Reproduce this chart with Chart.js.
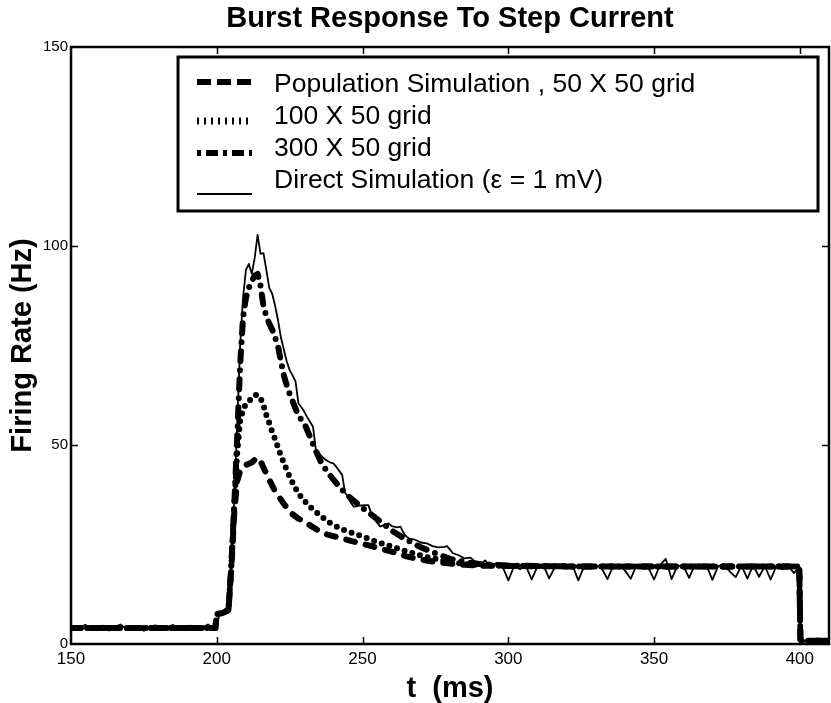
<!DOCTYPE html>
<html>
<head>
<meta charset="utf-8">
<script src="https://cdn.jsdelivr.net/npm/chart.js@4.4.1/dist/chart.umd.min.js"></script>
<style>
  html, body { margin: 0; padding: 0; background: #fff; }
  #wrap { width: 831px; height: 703px; position: relative; }
</style>
</head>
<body>
<div id="wrap"><canvas id="chart"></canvas></div>
<script>
const xTicks = [150, 200, 250, 300, 350, 400];
const yTicks = [0, 50, 100, 150];

const seriesNames = [
  'Population Simulation , 50 X 50 grid',
  '100 X 50 grid',
  '300 X 50 grid',
  'Direct Simulation (\u03b5 = 1 mV)'
];

// time grid shared by the three population runs (ms)
const popTime = [150, 175, 199.5, 200, 202, 204, 205, 206, 207, 208, 209, 210, 211, 212, 213, 214,
  215, 216, 217, 218, 219, 220, 221, 222, 223, 224, 225, 226, 228, 230, 232, 234, 236, 238, 240,
  243, 246, 250, 255, 260, 265, 270, 275, 280, 285, 290, 300, 320, 350, 380, 399.8, 400.2, 410];

const pop50 = [4, 4, 4, 7.5, 7.8, 8.5, 19, 33, 41, 43.5, 44.5, 45, 45.3, 45.6, 46.3, 46.8,
  46, 44.3, 42.8, 41.3, 39.8, 38.4, 37.4, 36.3, 35.2, 34.3, 33.5, 32.6, 31.5, 30.8, 29.8, 28.9, 28, 27.5, 27.1,
  26.5, 25.9, 25.2, 24.2, 23.2, 22, 21.2, 20.6, 20.2, 19.9, 19.7, 19.6, 19.5, 19.5, 19.5, 19.5, 0.8, 0.8];

const pop100 = [4, 4, 4, 7.5, 7.8, 8.5, 20, 35, 48, 56, 58.8, 60.3, 61, 61.7, 62.5, 62.6,
  61.8, 60, 57.5, 55.5, 53.3, 51.5, 49.4, 47.3, 45.5, 43.7, 42, 40.5, 37.8, 36, 34.5, 33.2, 32, 30.8, 29.9,
  28.8, 28, 27, 25.6, 24.5, 23.3, 22.2, 21.4, 20.6, 20.1, 19.8, 19.6, 19.5, 19.5, 19.5, 19.5, 0.8, 0.8];

const pop300 = [4, 4, 4, 7.5, 7.8, 8.5, 20, 35, 52, 70, 82, 87, 89.5, 91.2, 92.5, 93,
  90, 85, 82.3, 80.5, 79, 77, 74.8, 71, 67.5, 65, 62.8, 61, 57.3, 55.5, 52, 48.5, 45.3, 43.2, 41.3,
  38.7, 36.6, 34.2, 31.4, 28.5, 26.2, 24.3, 22.8, 21.4, 20.6, 20.1, 19.7, 19.5, 19.5, 19.5, 19.5, 0.8, 0.8];

// direct (Monte Carlo) simulation
const directTime = [150, 151.5, 153, 155, 157, 159, 161, 163, 165, 167, 169, 171, 173, 175, 177, 179,
  181, 183, 185, 187, 189, 191, 193, 195, 197, 199, 199.8, 201, 203, 204, 205, 206, 207, 208, 209, 210,
  211, 212, 213, 214, 215, 216, 217, 218, 219, 220, 221, 222, 223, 224, 225, 226, 227, 228, 229, 230,
  231, 232, 233, 234, 235, 236, 237, 238, 239, 240, 241, 242, 243, 244, 245, 246, 247, 248, 249, 250,
  251, 252, 253, 254, 255, 256, 257, 258, 259, 260, 262, 263, 264, 265, 266, 268, 270, 272, 274, 276,
  278, 279, 281, 283, 285, 287, 289, 291, 292, 294, 296, 298, 300, 302, 304, 306, 308, 310, 312, 314,
  316, 318, 320, 322, 324, 326, 328, 330, 332, 334, 336, 338, 340, 342, 344, 346, 348, 350, 352, 354,
  356, 358, 360, 362, 364, 366, 368, 370, 372, 374, 376, 378, 380, 382, 384, 386, 388, 390, 392, 394,
  396, 398, 399.8, 400.2, 403, 406, 410];

const directRate = [4.5, 3.6, 4.2, 4.8, 3.5, 4.1, 4.6, 3.4, 4.3, 4.9, 3.7, 4.2, 4.5, 3.3, 4.4, 4.7,
  3.6, 4.1, 4.8, 3.5, 4.3, 4.6, 3.8, 4.2, 4.9, 4.0, 4.2, 7.6, 7.9, 8.6, 21, 37, 55, 75, 87, 94,
  95.5, 93, 97, 102.8, 98, 98.2, 94, 89.5, 88, 85, 81.4, 77, 74, 71, 68.8, 67.5, 66, 60.5, 59.5, 58.4,
  57, 55.8, 54.6, 48.7, 48, 47.1, 46.5, 46, 45.6, 45.4, 44.5, 43.5, 42.5, 38, 37, 35.5, 34.5, 34.6, 34.8, 34.8,
  34.9, 34.9, 32.8, 31.5, 30.5, 29.5, 29.8, 30.1, 30.3, 29.6, 29.3, 29.5, 28, 27, 26.5, 26.2, 25.5, 25.3, 24.6, 24.3,
  24.4, 24.6, 22.8, 22.3, 21.5, 21.7, 20.5, 20.3, 21, 19.3, 20.4, 19.5, 16, 19.6, 18.8, 19.7, 16.2, 19.5, 19.8, 16.5,
  19.4, 19.7, 18.9, 19.8, 16, 19.5, 19.3, 19.8, 19.1, 16.3, 19.6, 19.7, 18.5, 16.4, 19.8, 19.5, 19.2, 16.2, 19.8, 21.4,
  16.3, 19.6, 19.7, 16.6, 19.8, 19.4, 19.7, 16.1, 19.6, 19.8, 18.2, 16.8, 19.7, 16.4, 19.8, 16.9, 19.6, 16.2, 19.7, 18.8,
  19.6, 17.8, 19.5, 0.8, 0.6, 0.8, 0.7];

const toPoints = (xs, ys) => xs.map((x, i) => ({ x, y: ys[i] }));

const lineStyles = [
  { borderWidth: 6, borderDash: [9, 11], legendWidth: 6, legendDash: [14, 6] },
  { borderWidth: 6, borderDash: [0, 8], legendWidth: 7, legendDash: [2, 5] },
  { borderWidth: 6, borderDash: [10, 9, 0, 9], legendWidth: 6, legendDash: [4, 5, 12, 5] },
  { borderWidth: 1.8, borderDash: [], legendWidth: 2, legendDash: [] }
];

const seriesData = [
  toPoints(popTime, pop50),
  toPoints(popTime, pop100),
  toPoints(popTime, pop300),
  toPoints(directTime, directRate)
];

const datasets = seriesData.map((data, i) => ({
  label: seriesNames[i],
  data,
  borderColor: '#000',
  borderWidth: lineStyles[i].borderWidth,
  borderDash: lineStyles[i].borderDash,
  borderCapStyle: 'round',
  borderJoinStyle: 'round',
  pointRadius: 0,
  tension: 0,
  fill: false
}));

const FONT = '"Liberation Sans", Arial, sans-serif';

// boxed legend inside the plot, plus a full frame with inward ticks
const frameAndLegend = {
  id: 'frameAndLegend',
  afterDatasetsDraw(chart) {
    const { ctx, chartArea: a, scales: { x, y } } = chart;
    ctx.save();
    ctx.strokeStyle = '#000';
    ctx.lineWidth = 1.5;
    ctx.beginPath();
    xTicks.slice(1).forEach((v) => {
      const px = Math.round(x.getPixelForValue(v)) + 0.5;
      ctx.moveTo(px, a.bottom); ctx.lineTo(px, a.bottom - 7);
      ctx.moveTo(px, a.top); ctx.lineTo(px, a.top + 7);
    });
    yTicks.slice(1, -1).forEach((v) => {
      const py = Math.round(y.getPixelForValue(v)) + 0.5;
      ctx.moveTo(a.left, py); ctx.lineTo(a.left + 7, py);
      ctx.moveTo(a.right, py); ctx.lineTo(a.right - 7, py);
    });
    ctx.stroke();
    ctx.lineWidth = 2.5;
    ctx.strokeRect(a.left, a.top, a.right - a.left, a.bottom - a.top);

    const bx = a.left + 107, by = a.top + 10, bw = a.right - a.left - 118, bh = 154;
    ctx.fillStyle = '#fff';
    ctx.fillRect(bx, by, bw, bh);
    ctx.lineWidth = 3;
    ctx.strokeRect(bx, by, bw, bh);

    ctx.font = '26.5px ' + FONT;
    ctx.textBaseline = 'middle';
    ctx.fillStyle = '#000';
    const sampleOffset = [-3, 4, 4, 13];
    chart.data.datasets.forEach((ds, i) => {
      const rowY = by + 28 + i * 32;
      ctx.lineWidth = lineStyles[i].legendWidth;
      ctx.setLineDash(lineStyles[i].legendDash);
      ctx.lineCap = 'butt';
      ctx.beginPath();
      ctx.moveTo(bx + 19, rowY + sampleOffset[i]);
      ctx.lineTo(bx + 74, rowY + sampleOffset[i]);
      ctx.stroke();
      ctx.setLineDash([]);
      ctx.fillText(ds.label, bx + 96, rowY);
    });
    ctx.restore();
  }
};

new Chart(document.getElementById('chart'), {
  type: 'line',
  data: { datasets },
  options: {
    responsive: true,
    maintainAspectRatio: false,
    animation: false,
    layout: { padding: { top: 0, right: 2, bottom: 0, left: 0 } },
    plugins: {
      legend: { display: false },
      tooltip: { enabled: false },
      title: {
        display: true,
        fullSize: false,
        text: 'Burst Response To Step Current',
        color: '#000',
        font: { family: FONT, size: 29, weight: 'bold', lineHeight: 1 },
        padding: { top: 4, bottom: 14 }
      }
    },
    scales: {
      x: {
        type: 'linear',
        min: 150,
        max: 410,
        afterBuildTicks: (scale) => { scale.ticks = xTicks.map((value) => ({ value })); },
        grid: { display: false, drawTicks: false },
        border: { display: false },
        ticks: {
          color: '#000',
          padding: 4.8,
          maxRotation: 0,
          font: { family: FONT, size: 17 }
        },
        title: {
          display: true,
          text: 't  (ms)',
          color: '#000',
          padding: { top: 0, bottom: 0 },
          font: { family: FONT, size: 29, weight: 'bold', lineHeight: 1 }
        }
      },
      y: {
        min: 0,
        max: 150,
        afterBuildTicks: (scale) => { scale.ticks = yTicks.map((value) => ({ value })); },
        grid: { display: false, drawTicks: false },
        border: { display: false },
        ticks: {
          color: '#000',
          padding: 3,
          font: { family: FONT, size: 15 }
        },
        title: {
          display: true,
          text: 'Firing Rate (Hz)',
          color: '#000',
          padding: { top: 8, bottom: 3 },
          font: { family: FONT, size: 29, weight: 'bold', lineHeight: 1 }
        }
      }
    }
  },
  plugins: [frameAndLegend]
});
</script>
</body>
</html>
